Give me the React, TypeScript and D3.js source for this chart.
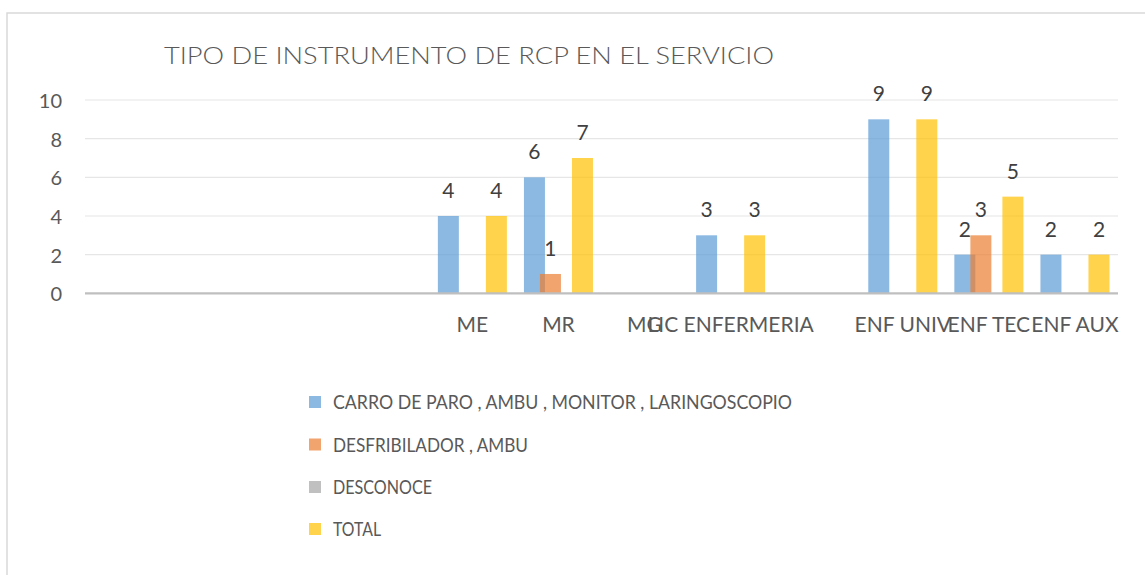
import React from "react";
import * as d3 from "d3";

const categories = ["", "", "", "", "ME", "MR", "MG", "LIC ENFERMERIA", "", "ENF UNIV", "ENF TEC", "ENF AUX"];
const seriesNames = [
  "CARRO DE PARO , AMBU , MONITOR , LARINGOSCOPIO",
  "DESFRIBILADOR , AMBU",
  "DESCONOCE",
  "TOTAL",
];
const carroValues: (number | null)[] = [null, null, null, null, 4, 6, null, 3, null, 9, 2, 2];
const desfribiladorValues: (number | null)[] = [null, null, null, null, null, 1, null, null, null, null, 3, null];
const desconoceValues: (number | null)[] = [null, null, null, null, null, null, null, null, null, null, null, null];
const totalValues: (number | null)[] = [null, null, null, null, 4, 7, null, 3, null, 9, 5, 2];
const yTicks = [0, 2, 4, 6, 8, 10];
const title = "TIPO DE INSTRUMENTO DE RCP EN EL SERVICIO";

const seriesColors = ["#5B9BD5", "#ED7D31", "#A5A5A5", "#FFC000"];

const W = 1145;
const H = 575;
const FONT = "Lato, 'Open Sans', sans-serif";
const legendTextWidths = [459, 195, 99, 48];

export default function App() {
  const series = [carroValues, desfribiladorValues, desconoceValues, totalValues];
  const idx = categories.map((_, i) => String(i));
  const x = d3.scaleBand<string>().domain(idx).range([85, 1118]).padding(0);
  const y = d3.scaleLinear().domain([0, 10]).range([293.3, 100]);
  const bw = x.bandwidth();
  const step = bw * 0.186;
  const barW = bw * 0.244;

  const legendY = [402, 444.5, 487, 529];

  return (
    <svg width={W} height={H} style={{ position: "absolute", left: 0, top: 0, background: "#fff" }} fontFamily={FONT}>
      <rect x={7} y={13} width={1200} height={700} fill="#fff" stroke="#d9d9d9" strokeWidth={1.5} />
      <text x={164} y={64} fontSize={24} fontWeight={300} fill="#595959" textLength={610} lengthAdjust="spacingAndGlyphs">
        {title}
      </text>
      {yTicks.map((t) => (
        <g key={t}>
          {t !== 0 && <line x1={85} x2={1118} y1={y(t)} y2={y(t)} stroke="#e6e6e6" strokeWidth={1.2} />}
          <text x={62} y={y(t) + 8} fontSize={20} fill="#595959" textAnchor="end">
            {t}
          </text>
        </g>
      ))}
      {series.map((vals, si) =>
        vals.map((v, ci) => {
          if (v === null || v === undefined) return null;
          const cx = (x(String(ci)) as number) + bw / 2 + (si - 1.5) * step;
          return (
            <rect
              key={`b${si}-${ci}`}
              x={cx - barW / 2}
              y={y(v)}
              width={barW}
              height={y(0) - y(v)}
              fill={seriesColors[si]}
              fillOpacity={0.7}
            />
          );
        })
      )}
      <line x1={85} x2={1118} y1={y(0)} y2={y(0)} stroke="#bfbfbf" strokeWidth={2.2} />
      {series.map((vals, si) =>
        vals.map((v, ci) => {
          if (v === null || v === undefined) return null;
          const cx = (x(String(ci)) as number) + bw / 2 + (si - 1.5) * step;
          return (
            <text key={`l${si}-${ci}`} x={cx} y={y(v) - 18} fontSize={21} fill="#404040" textAnchor="middle">
              {v}
            </text>
          );
        })
      )}
      {categories.map((c, ci) =>
        c ? (
          <text
            key={`c${ci}`}
            x={(x(String(ci)) as number) + bw / 2}
            y={332}
            fontSize={21}
            fill="#595959"
            textAnchor="middle"
          >
            {c}
          </text>
        ) : null
      )}
      {seriesNames.map((n, si) => (
        <g key={`lg${si}`}>
          <rect x={309} y={legendY[si] - 6} width={12} height={12} fill={seriesColors[si]} fillOpacity={0.7} />
          <text
            x={333}
            y={legendY[si] + 7}
            fontSize={19.5}
            fill="#595959"
            textLength={legendTextWidths[si]}
            lengthAdjust="spacingAndGlyphs"
          >
            {n}
          </text>
        </g>
      ))}
    </svg>
  );
}
